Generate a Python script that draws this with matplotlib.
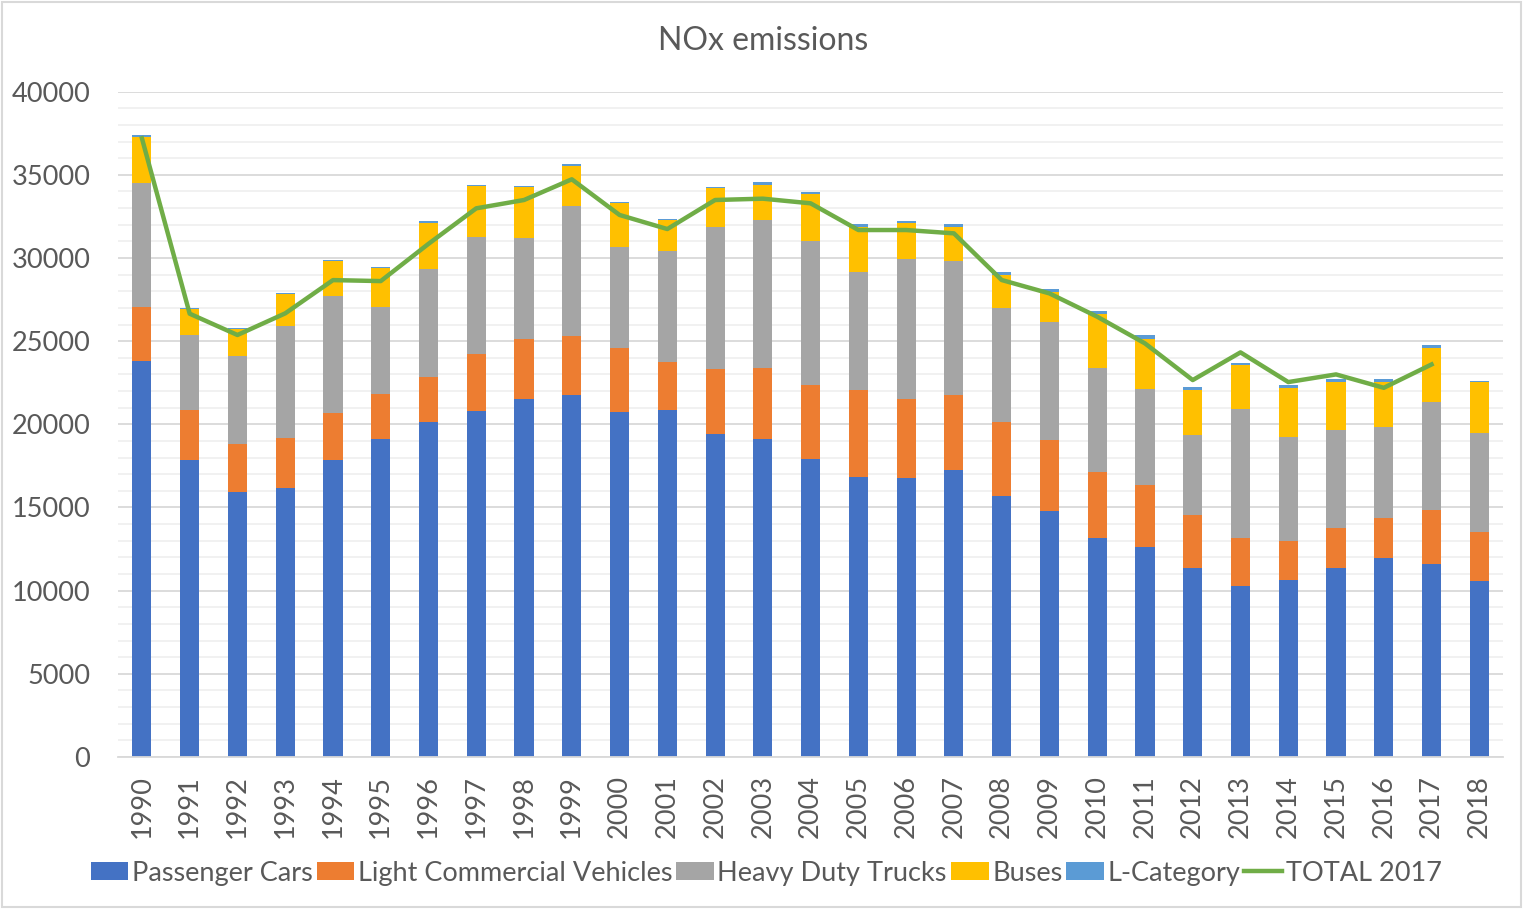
import numpy as np
import matplotlib
matplotlib.use("Agg")
import matplotlib.pyplot as plt
from matplotlib.patches import Rectangle
from matplotlib.ticker import MultipleLocator

plt.rcParams['font.family'] = ['Lato', 'DejaVu Sans']

years = [str(y) for y in range(1990, 2019)]

passenger_cars = [23820, 17830, 15920, 16180, 17830, 19090, 20150, 20810, 21500, 21755,
                  20715, 20835, 19410, 19130, 17890, 16840, 16780, 17225, 15680, 14800,
                  13175, 12630, 11370, 10285, 10670, 11390, 11990, 11590, 10610]
light_commercial = [3230, 3040, 2910, 3010, 2840, 2730, 2690, 3410, 3625, 3550,
                    3885, 2905, 3930, 4270, 4470, 5200, 4720, 4530, 4435, 4230,
                    3950, 3715, 3170, 2890, 2305, 2385, 2385, 3230, 2905]
heavy_duty = [7480, 4495, 5270, 6720, 7040, 5230, 6495, 7020, 6075, 7805,
              6060, 6660, 8520, 8900, 8680, 7130, 8455, 8080, 6895, 7100,
              6275, 5775, 4810, 7740, 6255, 5855, 5455, 6495, 5935]
buses = [2745, 1585, 1630, 1900, 2110, 2360, 2785, 3090, 3050, 2440,
         2645, 1880, 2330, 2110, 2825, 2710, 2130, 2025, 1965, 1800,
         3230, 3005, 2725, 2625, 2965, 2910, 2725, 3285, 3070]
l_category = [90, 60, 60, 80, 60, 50, 80, 60, 60, 80,
              80, 60, 80, 140, 120, 160, 155, 180, 195, 200,
              200, 240, 180, 160, 165, 180, 185, 165, 95]
total_2017 = [37195, 26650, 25370, 26670, 28670, 28610, 30850, 32985, 33485, 34730,
              32585, 31740, 33485, 33565, 33285, 31680, 31680, 31480, 28675, 27870,
              26470, 24865, 22660, 24325, 22540, 23000, 22195, 23600]

series = [
    ("Passenger Cars", passenger_cars, "#4472c4"),
    ("Light Commercial Vehicles", light_commercial, "#ed7d31"),
    ("Heavy Duty Trucks", heavy_duty, "#a5a5a5"),
    ("Buses", buses, "#ffc000"),
    ("L-Category", l_category, "#5b9bd5"),
]

text_color = "#595959"

fig = plt.figure(figsize=(15.23, 9.09), dpi=100)
ax = fig.add_axes([0.0775, 0.1672, 0.9095, 0.7320])

x = np.arange(len(years))
bottom = np.zeros(len(years))
for name, vals, color in series:
    ax.bar(x, vals, width=0.4, bottom=bottom, color=color, label=name, zorder=2)
    bottom += np.array(vals)

ax.plot(np.arange(len(total_2017)), total_2017, color="#70ad47", linewidth=3.2,
        label="TOTAL 2017", zorder=3, solid_joinstyle='round')

## Axis
ax.set_xlim(-0.5, len(years) - 0.5)
ax.set_ylim(0, 40000)
ax.yaxis.set_major_locator(MultipleLocator(5000))
ax.yaxis.set_minor_locator(MultipleLocator(1000))
ax.set_xticks(x)
ax.set_xticklabels(years, rotation=90)
ax.tick_params(axis='x', length=0, pad=13, labelsize=19.5, labelcolor=text_color)
ax.tick_params(axis='y', which='both', length=0, pad=20, labelsize=19.5, labelcolor=text_color)

## Grid
ax.grid(True, axis='y', which='major', color="#d9d9d9", linewidth=1.3, zorder=0)
ax.grid(True, axis='y', which='minor', color="#f0f0f0", linewidth=1.3, zorder=0)
ax.set_axisbelow(True)

## Lines
for side in ['top', 'right', 'left']:
    ax.spines[side].set_visible(False)
ax.spines['bottom'].set_color("#d9d9d9")
ax.spines['bottom'].set_linewidth(1.3)

## Title
fig.text(0.501, 0.955, "NOx emissions", ha='center', va='center',
         fontsize=23, color=text_color)

## Legend
handles, labels = ax.get_legend_handles_labels()
order = [1, 2, 3, 4, 5, 0]
fig.legend([handles[i] for i in order], [labels[i] for i in order],
           loc='center', bbox_to_anchor=(0.503, 0.0396), ncol=6, frameon=False,
           fontsize=19.5, labelcolor=text_color, handlelength=1.4, handleheight=0.6,
           handletextpad=0.12, columnspacing=0.15)

# chart border
fig.patches.append(Rectangle((0.001, 0.002), 0.998, 0.996, transform=fig.transFigure,
                             fill=False, edgecolor="#d9d9d9", linewidth=1.5))

fig.savefig("out.png", dpi=100)
